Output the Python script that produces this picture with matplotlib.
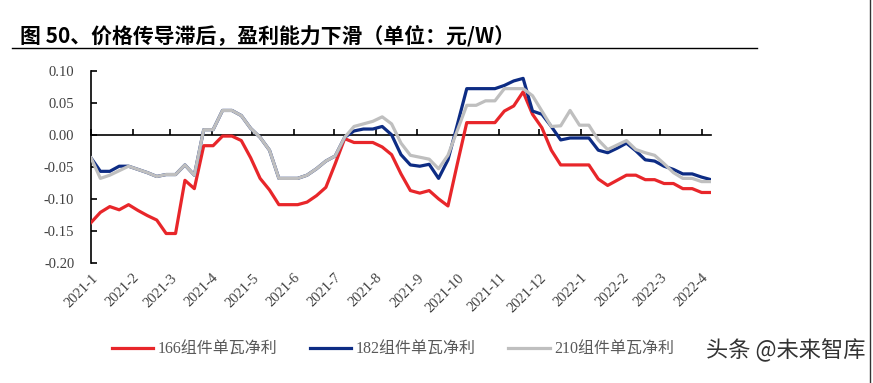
import numpy as np
import pandas as pd
import matplotlib
matplotlib.use('Agg')
from matplotlib import pyplot as plt
from matplotlib.lines import Line2D
from matplotlib.font_manager import FontProperties

# weekly data, first point 2021-01-01
dates = pd.date_range('2021-01-01', periods=67, freq='7D')

net_166 = [-0.137, -0.121, -0.112, -0.117, -0.109, -0.118, -0.126, -0.133, -0.154, -0.154,
           -0.071, -0.084, -0.017, -0.017, -0.002, -0.002, -0.009, -0.036, -0.068, -0.086,
           -0.109, -0.109, -0.109, -0.105, -0.095, -0.082, -0.045, -0.006, -0.012, -0.012,
           -0.012, -0.019, -0.031, -0.061, -0.087, -0.091, -0.087, -0.100, -0.111, -0.045,
           0.019, 0.019, 0.019, 0.019, 0.037, 0.045, 0.067, 0.032, 0.011, -0.024,
           -0.047, -0.047, -0.047, -0.047, -0.069, -0.079, -0.071, -0.063, -0.063, -0.070,
           -0.070, -0.076, -0.076, -0.084, -0.084, -0.090, -0.090]

net_182 = [-0.036, -0.057, -0.057, -0.049, -0.049, -0.054, -0.059, -0.065, -0.062, -0.062,
           -0.047, -0.063, 0.008, 0.008, 0.038, 0.038, 0.030, 0.010, -0.004, -0.024,
           -0.068, -0.068, -0.068, -0.063, -0.053, -0.041, -0.033, -0.004, 0.006, 0.009,
           0.009, 0.013, 0.000, -0.031, -0.047, -0.049, -0.046, -0.068, -0.039, 0.016,
           0.072, 0.072, 0.072, 0.072, 0.077, 0.084, 0.088, 0.037, 0.032, 0.013,
           -0.008, -0.005, -0.005, -0.005, -0.024, -0.028, -0.021, -0.013, -0.025, -0.039,
           -0.041, -0.049, -0.054, -0.061, -0.061, -0.066, -0.070]

net_210 = [-0.036, -0.068, -0.063, -0.056, -0.049, -0.054, -0.059, -0.065, -0.062, -0.062,
           -0.047, -0.063, 0.008, 0.008, 0.038, 0.038, 0.030, 0.010, -0.004, -0.024,
           -0.068, -0.068, -0.068, -0.063, -0.053, -0.041, -0.033, -0.004, 0.013, 0.017,
           0.021, 0.028, 0.017, -0.013, -0.032, -0.035, -0.038, -0.053, -0.032, 0.007,
           0.046, 0.046, 0.053, 0.053, 0.072, 0.072, 0.072, 0.061, 0.037, 0.013,
           0.014, 0.038, 0.015, 0.015, -0.008, -0.023, -0.016, -0.009, -0.023, -0.028,
           -0.032, -0.045, -0.059, -0.068, -0.068, -0.073, -0.073]

month_ticks = pd.date_range('2021-01-01', '2022-04-01', freq='MS')
month_labels = ['2021-1', '2021-2', '2021-3', '2021-4', '2021-5', '2021-6', '2021-7', '2021-8',
                '2021-9', '2021-10', '2021-11', '2021-12', '2022-1', '2022-2', '2022-3', '2022-4']
y_ticks = [-0.20, -0.15, -0.10, -0.05, 0.00, 0.05, 0.10]
y_labels = ['-0.20', '-0.15', '-0.10', '-0.05', '0.00', '0.05', '0.10']
series_names = ['166组件单瓦净利', '182组件单瓦净利', '210组件单瓦净利']

serif = ['Liberation Serif', 'Noto Sans CJK SC']
txt_color = '#404040'

fig = plt.figure(figsize=(8.73, 3.83), dpi=100)
ax = fig.add_axes([91/873, 1-263/383, 620/873, 192.3/383])

ax.plot(dates, net_166, color='#E8262A', lw=2.3, label=series_names[0], zorder=3)
ax.plot(dates, net_182, color='#0D2C84', lw=2.3, label=series_names[1], zorder=4)
ax.plot(dates, net_210, color='#BFBFBF', lw=2.3, label=series_names[2], zorder=5)

ax.set_xlim(dates[0], dates[-1])
ax.set_ylim(-0.2, 0.1)
ax.set_yticks(y_ticks)
ax.set_yticklabels(y_labels, family=serif, fontsize=10.5, color=txt_color)
ax.tick_params(axis='y', direction='in', length=4, width=1.2, pad=12)

# x axis line sits at zero, labels go to the bottom
ax.spines['top'].set_visible(False)
ax.spines['right'].set_visible(False)
ax.spines['bottom'].set_position(('data', 0))
ax.spines['bottom'].set_linewidth(1.2)
ax.spines['left'].set_linewidth(1.2)
ax.set_xticks(month_ticks)
ax.tick_params(axis='x', direction='in', length=4, width=1.2, labelbottom=False)

sec = ax.secondary_xaxis('bottom')
sec.set_xticks(month_ticks)
sec.set_xticklabels(month_labels, family=serif, fontsize=10.5, color=txt_color)
sec.tick_params(length=0, pad=6)
sec.spines['bottom'].set_visible(False)
for lab in sec.get_xticklabels():
    lab.set_rotation(45)
    lab.set_ha('right')
    lab.set_rotation_mode('anchor')

fig.text(20/873, 1-36/383, '图 50、价格传导滞后，盈利能力下滑（单位：元/W）',
         family=['Noto Sans CJK SC', 'DejaVu Sans'], fontweight='bold', fontsize=15,
         va='center', ha='left', color='black')
fig.add_artist(Line2D([12/873, 757/873], [1-48/383, 1-48/383], color='black', lw=1))
fig.add_artist(Line2D([870/873, 870/873], [0, 1], color='#333333', lw=1))

leg = fig.legend(loc='center', bbox_to_anchor=(393/873, 1-350/383), ncol=3, frameon=False,
                 prop=FontProperties(family=serif, size=11.5), labelcolor='#595959',
                 handlelength=2.6, columnspacing=2.0, handletextpad=0.3)

fig.text(866/873, 1-350/383, '头条 @未来智库', family=['Noto Sans CJK SC', 'DejaVu Sans'],
         fontsize=16, ha='right', va='center', color='#333333')

fig.savefig('out.png', dpi=100)
